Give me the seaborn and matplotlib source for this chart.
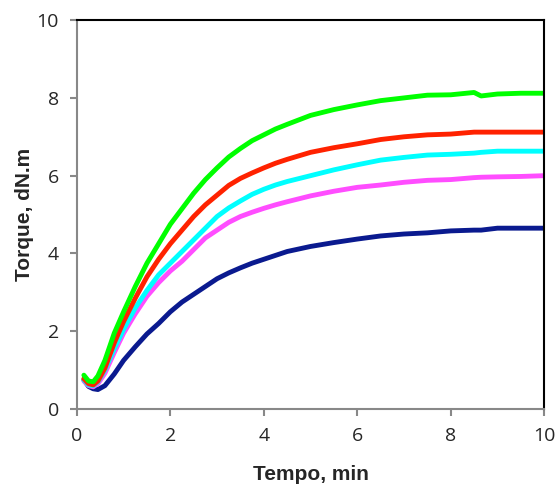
import pandas as pd
import seaborn as sns
import matplotlib.pyplot as plt

# dados (tempo em min, torque em dN.m)
tempo = [0.15, 0.25, 0.35, 0.45, 0.6, 0.8, 1.0, 1.25, 1.5, 1.75, 2.0, 2.25, 2.5, 2.75,
         3.0, 3.25, 3.5, 3.75, 4.0, 4.25, 4.5, 5.0, 5.5, 6.0, 6.5, 7.0, 7.5, 8.0, 8.5, 8.65,
         9.0, 9.5, 10.0]

verde = [0.87, 0.72, 0.70, 0.85, 1.25, 1.95, 2.5, 3.15, 3.75, 4.25, 4.75, 5.15, 5.55, 5.9,
         6.2, 6.48, 6.7, 6.9, 7.05, 7.2, 7.32, 7.55, 7.7, 7.82, 7.93, 8.0, 8.07, 8.08, 8.14, 8.05,
         8.1, 8.12, 8.12]
vermelho = [0.78, 0.65, 0.62, 0.72, 1.05, 1.7, 2.25, 2.85, 3.4, 3.85, 4.25, 4.6, 4.95, 5.25,
            5.5, 5.75, 5.93, 6.07, 6.2, 6.32, 6.42, 6.6, 6.72, 6.82, 6.93, 7.0, 7.05, 7.07, 7.12, 7.12,
            7.12, 7.12, 7.12]
ciano = [0.75, 0.62, 0.6, 0.7, 1.0, 1.55, 2.05, 2.6, 3.05, 3.45, 3.75, 4.05, 4.35, 4.65,
         4.95, 5.17, 5.35, 5.52, 5.65, 5.76, 5.85, 6.0, 6.15, 6.28, 6.4, 6.47, 6.53, 6.55, 6.58, 6.6,
         6.63, 6.63, 6.63]
magenta = [0.72, 0.6, 0.57, 0.65, 0.92, 1.45, 1.95, 2.45, 2.9, 3.25, 3.55, 3.8, 4.1, 4.4,
           4.6, 4.8, 4.95, 5.06, 5.16, 5.25, 5.33, 5.48, 5.6, 5.7, 5.76, 5.83, 5.88, 5.9, 5.95, 5.96,
           5.97, 5.98, 6.0]
azul = [0.75, 0.58, 0.52, 0.5, 0.6, 0.9, 1.25, 1.6, 1.93, 2.2, 2.5, 2.75, 2.95, 3.15,
        3.35, 3.5, 3.63, 3.75, 3.85, 3.95, 4.05, 4.18, 4.28, 4.37, 4.45, 4.5, 4.53, 4.58, 4.6, 4.6,
        4.65, 4.65, 4.65]

series = {"azul": azul, "magenta": magenta, "ciano": ciano, "vermelho": vermelho, "verde": verde}
cores = ["#0A1A8F", "#FF4DFF", "#00FFFF", "#FF2200", "#00FF00"]

#montando o dataframe longo
df = pd.concat([pd.DataFrame({"Tempo": tempo, "Torque": v, "Serie": k}) for k, v in series.items()])

sns.set_style("white")
plt.rcParams['font.family'] = ['Open Sans', 'DejaVu Sans']

fig, graf = plt.subplots(figsize=(5.57, 4.91), dpi=100)
fig.subplots_adjust(left=0.138, right=0.977, bottom=0.167, top=0.959)

sns.lineplot(data=df, x="Tempo", y="Torque", hue="Serie", palette=cores, sort=False,
             linewidth=3.5, legend=False, ax=graf)

graf.set_xlim(0, 10)
graf.set_ylim(0, 10)
graf.set_xticks([0, 2, 4, 6, 8, 10])
graf.set_yticks([0, 2, 4, 6, 8, 10])

#eixos
graf.set_xlabel("Tempo, min", fontdict={'fontsize': 15, 'fontweight': 'bold', 'family': 'Liberation Sans'}, labelpad=14)
graf.set_ylabel("Torque, dN.m", fontdict={'fontsize': 15, 'fontweight': 'bold', 'family': 'Liberation Sans'}, labelpad=2)

for lado in ["left", "bottom"]:
    graf.spines[lado].set_color("#888888")
    graf.spines[lado].set_linewidth(1.5)
for lado in ["top", "right"]:
    graf.spines[lado].set_color("black")
    graf.spines[lado].set_linewidth(1.5)

graf.tick_params(axis="both", direction="out", length=5, width=1.5, color="#888888",
                 labelsize=14, pad=8, bottom=True, left=True)

fig.savefig("out.png", dpi=100)
